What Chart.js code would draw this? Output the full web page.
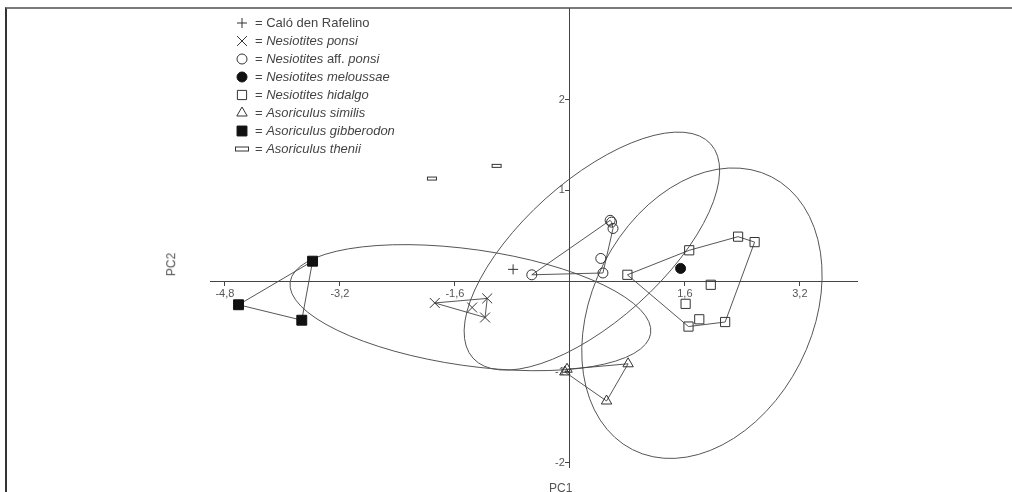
<!DOCTYPE html>
<html>
<head>
<meta charset="utf-8">
<script src="https://cdn.jsdelivr.net/npm/chart.js@4.4.1/dist/chart.umd.min.js"></script>
<style>
  html, body { margin: 0; padding: 0; background: #fff; }
  #wrap { position: relative; width: 1012px; height: 492px; overflow: hidden; }
  #frame { position: absolute; left: 5px; top: 7px; right: -2px; bottom: -2px;
           border-top: 2px solid #7a7a7a; border-left: 2px solid #333; }
  #c { position: absolute; left: 0; top: 0; }
  .axtitle { position: absolute; font-family: "Liberation Sans", Arial, sans-serif;
             font-size: 12px; color: #555; line-height: 13px; white-space: nowrap; }
</style>
</head>
<body>
<div id="wrap">
  <div id="frame"></div>
  <canvas id="c" width="1012" height="492"></canvas>
  <div class="axtitle" style="left:549px; top:482px;">PC1</div>
  <div class="axtitle" style="left:160px; top:258px; transform: rotate(-90deg);">PC2</div>
</div>
<script>
// PCA scores (PC1, PC2) per group
const caloX = [-0.79];
const caloY = [0.13];
const ponsiX = [-1.88, -1.15, -1.18, -1.36];
const ponsiY = [-0.24, -0.19, -0.40, -0.29];
const affPonsiX = [-0.53, 0.46, 0.43, 0.56, 0.58, 0.60];
const affPonsiY = [0.07, 0.09, 0.25, 0.67, 0.65, 0.58];
const meloussaeX = [1.54];
const meloussaeY = [0.14];
const hidalgoX = [0.80, 1.66, 2.34, 2.57, 1.96, 1.61, 1.65, 1.80, 2.16];
const hidalgoY = [0.07, 0.34, 0.49, 0.43, -0.04, -0.25, -0.50, -0.42, -0.45];
const similisX = [-0.07, -0.04, 0.81, 0.51];
const similisY = [-1.00, -0.97, -0.91, -1.32];
const gibberodonX = [-3.58, -4.61, -3.73];
const gibberodonY = [0.22, -0.26, -0.43];
const theniiX = [-1.92, -1.02];
const theniiY = [1.13, 1.27];

// convex hull vertex order (indices into each group)
const ponsiHull = [0, 1, 2, 0];
const affPonsiHull = [0, 3, 4, 5, 1, 0];
const hidalgoHull = [0, 1, 2, 3, 8, 6, 0];
const similisHull = [1, 2, 3, 0, 1];
const gibberodonHull = [0, 1, 2, 0];

// ellipses: centre and two conjugate half-axes, in PC units
const ellipseCenters = [[-1.384, -0.292], [0.306, 0.331], [1.837, -0.353]];
const ellipseAxisU = [[2.508, -0.283], [1.654, 1.179], [0.967, 1.502]];
const ellipseAxisV = [[-0.114, -0.634], [0.651, -0.573], [1.364, -0.551]];

// axes
const xTickValues = [-4.8, -3.2, -1.6, 1.6, 3.2];
const xTickLabels = ['-4,8', '-3,2', '-1,6', '1,6', '3,2'];
const yTickValues = [-2, -1, 1, 2];
const yTickLabels = ['-2', '-1', '1', '2'];

// legend text: [text, italic]
const legendLabels = [
  [['= Caló den Rafelino', false]],
  [['= ', false], ['Nesiotites ponsi', true]],
  [['= ', false], ['Nesiotites', true], [' aff. ', false], ['ponsi', true]],
  [['= ', false], ['Nesiotites meloussae', true]],
  [['= ', false], ['Nesiotites hidalgo', true]],
  [['= ', false], ['Asoriculus similis', true]],
  [['= ', false], ['Asoriculus gibberodon', true]],
  [['= ', false], ['Asoriculus thenii', true]]
];

const FONT = '"Liberation Sans", Arial, sans-serif';
const INK = '#333';
const axisColor = '#444';

function flatRect(w, h) {
  const cv = document.createElement('canvas');
  cv.width = w + 2; cv.height = h + 2;
  const g = cv.getContext('2d');
  g.strokeStyle = INK; g.lineWidth = 1;
  g.strokeRect(1.5, 1.5, w - 1, h - 1);
  return cv;
}
const theniiMark = flatRect(10, 4);
const theniiLegendMark = flatRect(14, 5);

function pts(xs, ys) { return xs.map((x, i) => ({ x: x, y: ys[i] })); }
function hull(xs, ys, order) { return order.map(i => ({ x: xs[i], y: ys[i] })); }

function hullSet(xs, ys, order) {
  return { data: hull(xs, ys, order), showLine: true, pointRadius: 0, borderColor: '#444',
           borderWidth: 0.9, fill: false, tension: 0, order: 2 };
}

// marker styles shared by plot and legend
const markers = [
  { pointStyle: 'cross', pointRadius: 5, backgroundColor: 'rgba(0,0,0,0)', borderColor: INK },
  { pointStyle: 'crossRot', pointRadius: 7, backgroundColor: 'rgba(0,0,0,0)', borderColor: INK },
  { pointStyle: 'circle', pointRadius: 5, backgroundColor: 'rgba(0,0,0,0)', borderColor: INK },
  { pointStyle: 'circle', pointRadius: 5, backgroundColor: '#111', borderColor: '#111' },
  { pointStyle: 'rect', pointRadius: 6.5, backgroundColor: 'rgba(0,0,0,0)', borderColor: INK },
  { pointStyle: 'triangle', pointRadius: 6, backgroundColor: 'rgba(0,0,0,0)', borderColor: INK },
  { pointStyle: 'rect', pointRadius: 7, backgroundColor: '#111', borderColor: '#111' },
  { pointStyle: theniiMark, pointRadius: 5, backgroundColor: 'rgba(0,0,0,0)', borderColor: INK }
];

const groups = [
  pts(caloX, caloY), pts(ponsiX, ponsiY), pts(affPonsiX, affPonsiY), pts(meloussaeX, meloussaeY),
  pts(hidalgoX, hidalgoY), pts(similisX, similisY), pts(gibberodonX, gibberodonY), pts(theniiX, theniiY)
];

const datasets = [
  hullSet(ponsiX, ponsiY, ponsiHull),
  hullSet(affPonsiX, affPonsiY, affPonsiHull),
  hullSet(hidalgoX, hidalgoY, hidalgoHull),
  hullSet(similisX, similisY, similisHull),
  hullSet(gibberodonX, gibberodonY, gibberodonHull)
];
groups.forEach((g, i) => {
  datasets.push(Object.assign({ data: g, showLine: false, pointBorderWidth: 1, order: 1 }, markers[i]));
});

const ellipsePlugin = {
  id: 'ellipses',
  beforeDatasetsDraw(chart) {
    const ctx = chart.ctx, xs = chart.scales.x, ys = chart.scales.y;
    ctx.save();
    ctx.strokeStyle = '#555';
    ctx.lineWidth = 1;
    ellipseCenters.forEach((c, i) => {
      const u = ellipseAxisU[i], v = ellipseAxisV[i];
      const cx = xs.getPixelForValue(c[0]), cy = ys.getPixelForValue(c[1]);
      const ux = xs.getPixelForValue(c[0] + u[0]) - cx, uy = ys.getPixelForValue(c[1] + u[1]) - cy;
      const vx = xs.getPixelForValue(c[0] + v[0]) - cx, vy = ys.getPixelForValue(c[1] + v[1]) - cy;
      ctx.beginPath();
      ctx.save();
      ctx.transform(ux, uy, vx, vy, cx, cy);
      ctx.arc(0, 0, 1, 0, Math.PI * 2);
      ctx.restore();
      ctx.stroke();
    });
    ctx.restore();
  }
};

// y tick labels sit to the left of the centred axis
const yLabelPlugin = {
  id: 'yLabels',
  afterDraw(chart) {
    const ctx = chart.ctx, xs = chart.scales.x, ys = chart.scales.y;
    const x0 = xs.getPixelForValue(0);
    ctx.save();
    ctx.fillStyle = '#555';
    ctx.font = '11px ' + FONT;
    ctx.textAlign = 'right';
    ctx.textBaseline = 'middle';
    yTickValues.forEach((v, i) => ctx.fillText(yTickLabels[i], x0 - 5, ys.getPixelForValue(v)));
    ctx.restore();
  }
};

const legendPlugin = {
  id: 'keyBox',
  afterDraw(chart) {
    const ctx = chart.ctx;
    const symX = 242, textX = 255, top = 23, step = 18;
    ctx.save();
    legendLabels.forEach((parts, i) => {
      const y = top + step * i;
      const m = markers[i];
      ctx.strokeStyle = m.borderColor;
      ctx.fillStyle = m.backgroundColor;
      ctx.lineWidth = 1;
      const style = i === 7 ? theniiLegendMark : m.pointStyle;
      Chart.helpers.drawPoint(ctx, { pointStyle: style, radius: m.pointRadius, borderWidth: 1, rotation: 0 }, symX, y);
      let x = textX;
      ctx.fillStyle = '#444';
      ctx.textBaseline = 'middle';
      ctx.textAlign = 'left';
      parts.forEach(p => {
        ctx.font = (p[1] ? 'italic ' : '') + '13px ' + FONT;
        ctx.fillText(p[0], x, y);
        x += ctx.measureText(p[0]).width;
      });
    });
    ctx.restore();
  }
};

new Chart(document.getElementById('c'), {
  type: 'scatter',
  data: { datasets: datasets },
  options: {
    responsive: false,
    animation: false,
    devicePixelRatio: 1,
    layout: { padding: { left: 210.5, right: 154.6, top: 8.75, bottom: 24.7 } },
    plugins: { legend: { display: false }, tooltip: { enabled: false } },
    scales: {
      x: {
        type: 'linear', min: -5, max: 4, position: { y: 0 },
        afterFit: s => { s.height = 0; },
        afterBuildTicks: s => { s.ticks = xTickValues.map(v => ({ value: v })); },
        ticks: { autoSkip: false, maxRotation: 0, padding: 2, color: '#555',
                 font: { family: FONT, size: 11 }, callback: (v, i) => xTickLabels[i] },
        grid: { drawOnChartArea: false, drawTicks: true, tickLength: 4, color: axisColor, lineWidth: 1 },
        border: { display: true, color: axisColor, width: 1 }
      },
      y: {
        type: 'linear', min: -2.05, max: 3, position: { x: 0 },
        afterFit: s => { s.width = 0; },
        afterBuildTicks: s => { s.ticks = yTickValues.map(v => ({ value: v })); },
        ticks: { display: false },
        grid: { drawOnChartArea: false, drawTicks: true, tickLength: 4, color: axisColor, lineWidth: 1 },
        border: { display: true, color: axisColor, width: 1 }
      }
    }
  },
  plugins: [ellipsePlugin, yLabelPlugin, legendPlugin]
});
</script>
</body>
</html>
